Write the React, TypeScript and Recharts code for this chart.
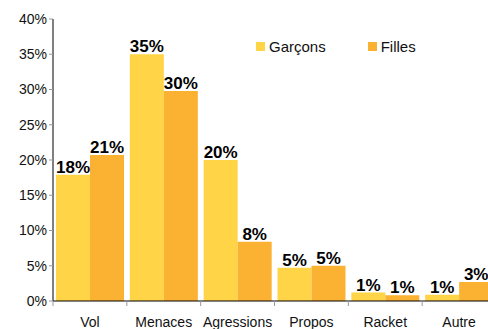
import { BarChart, Bar, XAxis, YAxis, LabelList } from "recharts";

const categories = ["Vol", "Menaces", "Agressions", "Propos", "Racket", "Autre"];
const garcons = [17.9, 35.0, 20.0, 4.7, 1.2, 0.9];
const filles = [20.7, 29.8, 8.4, 5.0, 0.8, 2.7];
const yTicks = [0, 5, 10, 15, 20, 25, 30, 35, 40];

const data = categories.map((name, i) => ({ name, garcons: garcons[i], filles: filles[i] }));

const YELLOW = "#FFD447";
const ORANGE = "#FBB131";
const FONT = "'Liberation Sans', Arial, sans-serif";

const XTick = ({ x, y, payload }: any) => {
  const half = payload.offset || 0;
  return (
    <g>
      <line x1={x - half} y1={y - 8} x2={x - half} y2={y - 3} stroke="#999" />
      <text x={x} y={y + 13} dy="0.355em" textAnchor="middle" fontSize={14} fill="#111" fontFamily={FONT}>
        {payload.value}
      </text>
    </g>
  );
};

const LegendBox = () => (
  <div
    style={{
      position: "absolute",
      top: 38,
      left: 256,
      display: "flex",
      fontFamily: FONT,
      fontSize: 15,
      color: "#111",
      alignItems: "center",
    }}
  >
    <span style={{ width: 9, height: 9, background: YELLOW, display: "inline-block", marginRight: 4 }} />
    <span style={{ marginRight: 42 }}>Garçons</span>
    <span style={{ width: 9, height: 9, background: ORANGE, display: "inline-block", marginRight: 4 }} />
    <span>Filles</span>
  </div>
);

const labelStyle = { fontSize: 17, fontWeight: "bold", fill: "#000", fontFamily: FONT };

const App = () => {
  return (
    <div style={{ position: "fixed", left: 0, top: 0, width: 488, height: 329, overflow: "hidden", background: "#fff" }}>
      <BarChart
        width={500}
        height={329}
        data={data}
        margin={{ top: 19, right: 4, bottom: 0, left: 0 }}
        barCategoryGap={3}
        barGap={0}
      >
        <XAxis
          dataKey="name"
          height={28}
          axisLine={{ stroke: "#000" }}
          tickLine={false}
          tick={<XTick />}
          interval={0}
        />
        <YAxis
          width={53}
          domain={[0, 40]}
          ticks={yTicks}
          tickFormatter={(v: number) => `${v}%`}
          axisLine={{ stroke: "#000" }}
          tickLine={{ stroke: "#999" }}
          tickSize={4}
          tick={{ fontSize: 14, fill: "#111", fontFamily: FONT }}
          interval={0}
        />
        <Bar dataKey="garcons" name="Garçons" fill={YELLOW} isAnimationActive={false}>
          <LabelList
            dataKey="garcons"
            position="top"
            offset={2}
            formatter={(v: any) => `${Math.round(Number(v))}%`}
            style={labelStyle}
          />
        </Bar>
        <Bar dataKey="filles" name="Filles" fill={ORANGE} isAnimationActive={false}>
          <LabelList
            dataKey="filles"
            position="top"
            offset={2}
            formatter={(v: any) => `${Math.round(Number(v))}%`}
            style={labelStyle}
          />
        </Bar>
      </BarChart>
      <LegendBox />
    </div>
  );
};

export default App;
